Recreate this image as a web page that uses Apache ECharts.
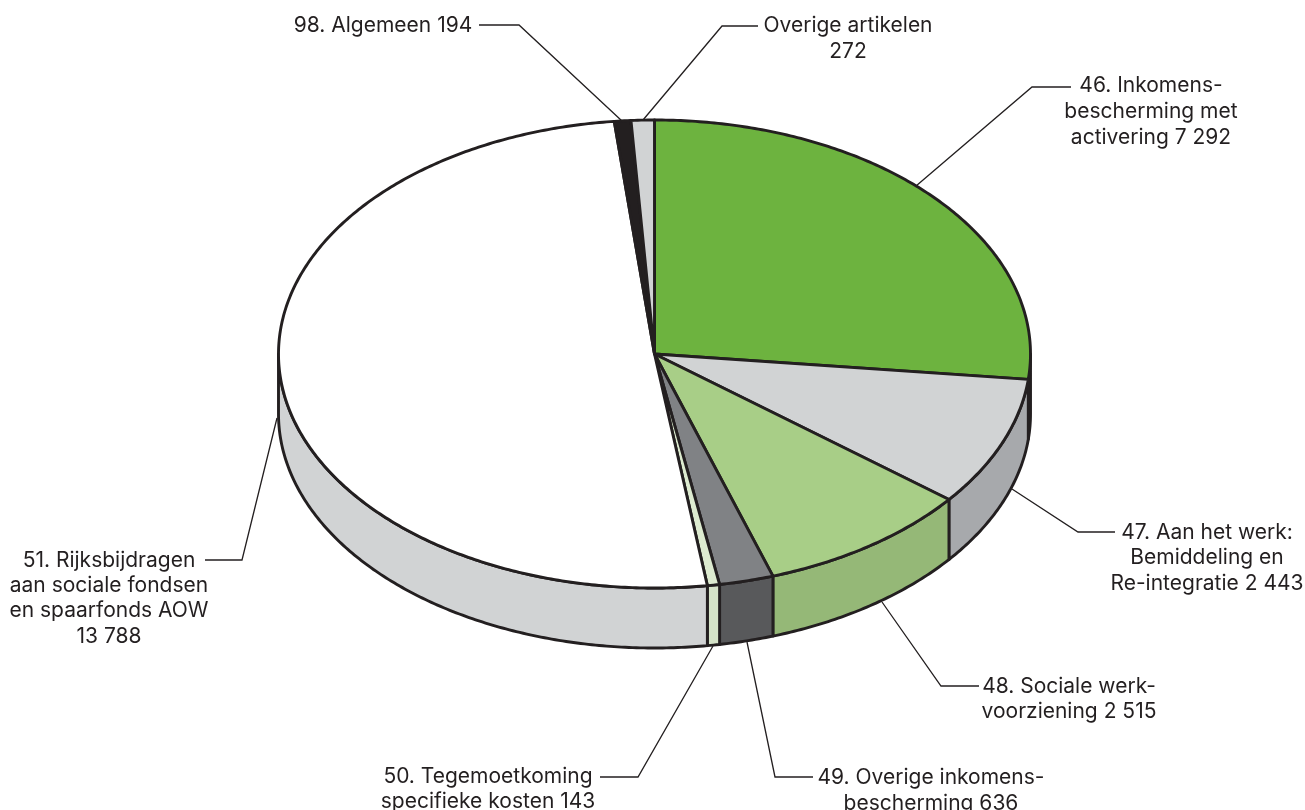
<!DOCTYPE html>
<html>
<head>
<meta charset="utf-8">
<style>
  html, body { margin: 0; padding: 0; background: #fff; }
  #main { width: 1305px; height: 810px; }
</style>
<script src="https://cdn.jsdelivr.net/npm/echarts@6/dist/echarts.min.js"></script>
</head>
<body>
<div id="main"></div>
<script>
// artikelen, met de klok mee vanaf 12 uur
let categories = ['46. Inkomensbescherming met activering', '47. Aan het werk: Bemiddeling en Re-integratie', '48. Sociale werkvoorziening', '49. Overige inkomensbescherming', '50. Tegemoetkoming specifieke kosten', '51. Rijksbijdragen aan sociale fondsen en spaarfonds AOW', '98. Algemeen', 'Overige artikelen'];
let values = [7292, 2443, 2515, 636, 143, 13788, 194, 272];
let labelLines = [
    ['46. Inkomens-', 'bescherming met', 'activering 7 292'],
    ['47. Aan het werk:', 'Bemiddeling en', 'Re-integratie 2 443'],
    ['48. Sociale werk-', 'voorziening 2 515'],
    ['49. Overige inkomens-', 'bescherming 636'],
    ['50. Tegemoetkoming', 'specifieke kosten 143'],
    ['51. Rijksbijdragen', 'aan sociale fondsen', 'en spaarfonds AOW', '13 788'],
    ['98. Algemeen 194'],
    ['Overige artikelen', '272']
];

let topColors = ['#6DB33F', '#D1D3D4', '#A8CE87', '#808285', '#DDEBD0', '#FFFFFF', '#231F20', '#D1D3D4'];
let sideColors = ['#4F8A2B', '#A7A9AC', '#95B877', '#58595B', '#D5E3C8', '#D1D3D4', '#231F20', '#A7A9AC'];

// plaats van de labels en aanwijslijnen
let labelPos = [
    { x: 1151, y: [85.5, 111.5, 137.5], line: [[916, 186], [1032, 87], [1071, 87]] },
    { x: 1207, y: [532.5, 557.5, 583.5], line: [[1012, 489], [1078, 532], [1115, 532]] },
    { x: 1069, y: [686.5, 711.5], line: [[882, 602], [941, 686], [979, 686]] },
    { x: 931, y: [777.5, 803.5], line: [[747, 642], [775, 777], [813, 777]] },
    { x: 488, y: [776.5, 801.5], line: [[713, 646], [638, 777], [600, 777]] },
    { x: 109, y: [560.5, 585.5, 610.5, 636.5], line: [[277, 418], [242, 560], [205, 560]] },
    { x: 383, y: [25.5], line: [[622, 121], [519, 25], [479, 25]] },
    { x: 848, y: [25.5, 51.5], line: [[643, 120], [722, 26], [758, 26]] }
];

let cx = 654.5, cy = 354, rx = 376, ry = 234, depth = 60;
let lineColor = '#231F20';
let labelFont = '21px Inter';

let total = values.reduce((a, b) => a + b, 0);
let angles = [0];
values.forEach((v, i) => angles.push(angles[i] + v / total * Math.PI * 2));

function rim(a, dy) {
    return [cx + rx * Math.sin(a), cy - ry * Math.cos(a) + (dy || 0)];
}

function arc(from, to, dy) {
    let pts = [];
    let n = Math.max(2, Math.ceil((to - from) / 0.01));
    for (let i = 0; i <= n; i++) {
        pts.push(rim(from + (to - from) * i / n, dy));
    }
    return pts;
}

let myChart = echarts.init(document.getElementById('main'), null, { renderer: 'canvas' });

let option = {
    backgroundColor: '#fff',
    animation: false,
    series: [
        {
            // zijkant
            type: 'custom',
            coordinateSystem: 'none',
            data: values,
            z: 1,
            renderItem: function (params) {
                let i = params.dataIndex;
                let from = Math.max(angles[i], Math.PI / 2);
                let to = Math.min(angles[i + 1], Math.PI * 1.5);
                if (to <= from) return { type: 'group', children: [] };
                let top = arc(from, to, 0);
                let bottom = arc(from, to, depth).reverse();
                return {
                    type: 'polygon',
                    shape: { points: top.concat(bottom) },
                    style: { fill: sideColors[i], stroke: lineColor, lineWidth: 2.9, lineJoin: 'round' }
                };
            }
        },
        {
            // bovenkant
            type: 'custom',
            coordinateSystem: 'none',
            data: values,
            z: 2,
            renderItem: function (params) {
                let i = params.dataIndex;
                return {
                    type: 'polygon',
                    shape: { points: [[cx, cy]].concat(arc(angles[i], angles[i + 1], 0)) },
                    style: { fill: topColors[i], stroke: lineColor, lineWidth: 2.9, lineJoin: 'round' }
                };
            }
        },
        {
            // labels met aanwijslijn
            type: 'custom',
            coordinateSystem: 'none',
            data: categories,
            z: 3,
            renderItem: function (params) {
                let i = params.dataIndex;
                let pos = labelPos[i];
                let children = [{
                    type: 'polyline',
                    shape: { points: pos.line },
                    style: { fill: null, stroke: lineColor, lineWidth: 1.3 }
                }];
                labelLines[i].forEach((text, k) => {
                    children.push({
                        type: 'text',
                        style: {
                            text: text,
                            x: pos.x,
                            y: pos.y[k],
                            align: 'center',
                            verticalAlign: 'middle',
                            font: labelFont,
                            fill: lineColor
                        }
                    });
                });
                return { type: 'group', children: children };
            }
        }
    ]
};
myChart.setOption(option);
</script>
</body>
</html>
